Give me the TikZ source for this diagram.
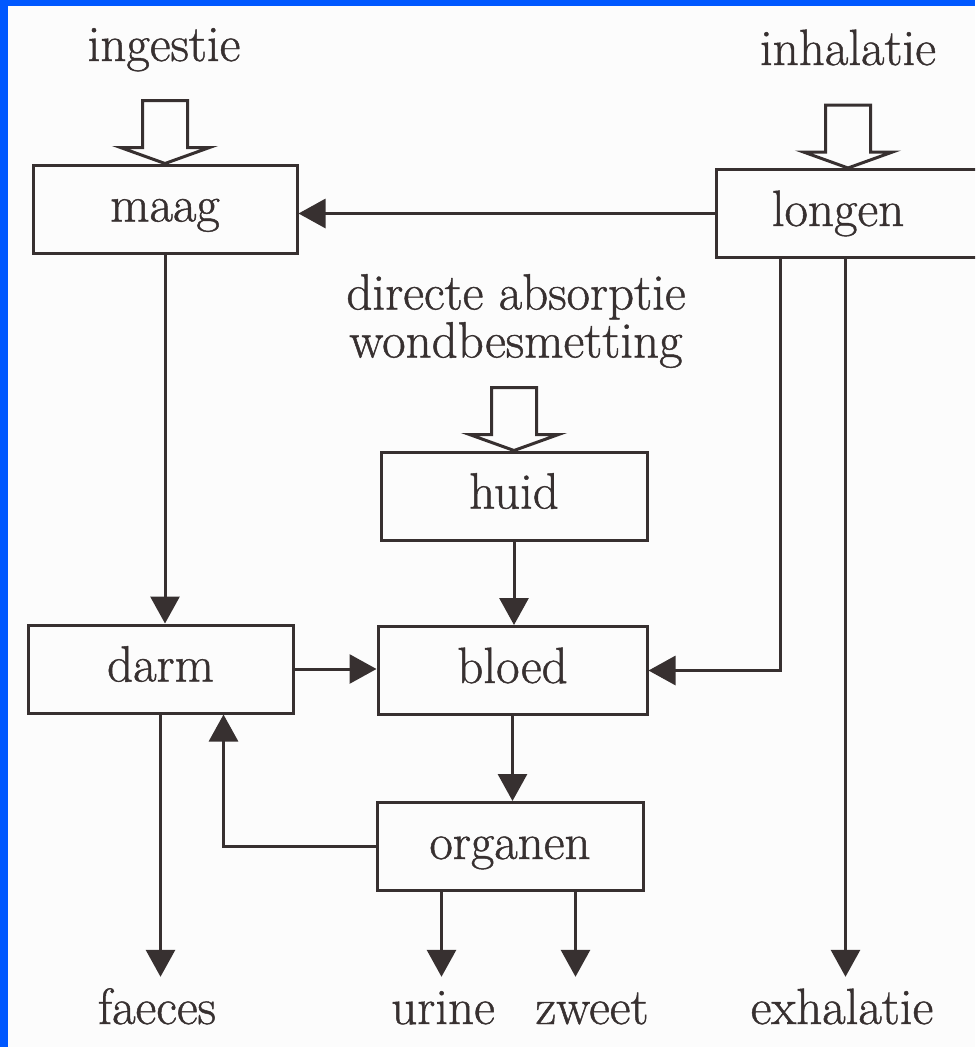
\documentclass[tikz,border=0pt]{standalone}
\usepackage{fontspec}
\setmainfont{Latin Modern Roman}[FakeBold=0.9]
\usetikzlibrary{arrows.meta,calc}
\definecolor{ink}{RGB}{55,48,48}
\definecolor{paper}{RGB}{252,252,252}
\definecolor{frameblue}{RGB}{0,88,255}
\newcommand\intake[1]{\draw[hollow] ($(#1)+(-22.5,-63)$) -- ++(45,0) -- ++(0,47) -- ++(22,0) -- (#1) -- ++(-44.5,-16) -- ++(22,0) -- cycle;}
\begin{document}
\begin{tikzpicture}[x=1pt,y=-1pt,
  every node/.style={font=\fontsize{51}{48}\selectfont, text=ink},
  organ/.style={draw=ink, line width=3pt, fill=paper, minimum width=266pt, minimum height=88pt, inner sep=0pt, text height=35pt, text depth=10pt},
  lbl/.style={inner sep=0pt, text height=47pt, text depth=10pt, anchor=base},
  conn/.style={draw=ink, line width=3pt, -{Triangle[length=27pt,width=29pt]}},
  hollow/.style={draw=ink, line width=3pt, fill=paper, line join=miter}
]
\useasboundingbox (0,0) rectangle (975,1047);
\clip (0,0) rectangle (975,1047);
\fill[paper] (0,0) rectangle (975,1047);
\fill[frameblue] (0,0) rectangle (975,5.5);
\fill[frameblue] (0,0) rectangle (8,1047);

% boxes
\node[organ, minimum width=264pt] (maag) at (165,209) {maag};
\node[organ, minimum width=264pt] (longen) at (848,213.5) {longen\kern20pt};
\node[organ] (huid) at (514,496) {huid};
\node[organ, minimum width=269pt] (bloed) at (512.5,670.5) {bloed};
\node[organ, minimum width=265pt] (darm) at (160.5,669) {darm};
\node[organ] (organen) at (510,846.5) {organen};

% labels
\node[lbl] (ing) at (164,61) {ingestie};
\node[lbl] (inh) at (848,65) {inhalatie};
\node[inner sep=0pt, align=center] (dir) at (516,321) {directe absorptie\\wondbesmetting};
\node[lbl] (fae) at (157,1024) {faeces};
\node[lbl] (uri) at (443,1024) {urine};
\node[lbl] (zwe) at (592,1024) {zweet};
\node[lbl] (exh) at (842,1024) {exhalatie};

% intake arrows
\intake{maag.north}
\intake{longen.north}
\intake{huid.north}

% connectors
\draw[conn] (longen.west) -- (longen.west -| maag.east);
\draw[conn] (maag.south) -- (maag.south |- darm.north);
\draw[conn] (huid.south) -- (huid.south |- bloed.north);
\draw[conn] (darm.east) -- (darm.east -| bloed.west);
\coordinate (lb) at ([xshift=66pt]longen.south west);
\draw[conn] (lb) |- (bloed.east);
\coordinate (le) at ([xshift=131pt]longen.south west);
\draw[conn] (le) -- (le |- exh.north);
\draw[conn] (bloed.south) -- (bloed.south |- organen.north);
\draw[conn] (organen.west) -| ([xshift=197pt]darm.south west);
\draw[conn] (darm.south) -- (darm.south |- fae.north);
\coordinate (ou) at ([xshift=66pt]organen.south west);
\draw[conn] (ou) -- (ou |- uri.north);
\coordinate (oz) at ([xshift=200pt]organen.south west);
\draw[conn] (oz) -- (oz |- zwe.north);
\end{tikzpicture}
\end{document}
